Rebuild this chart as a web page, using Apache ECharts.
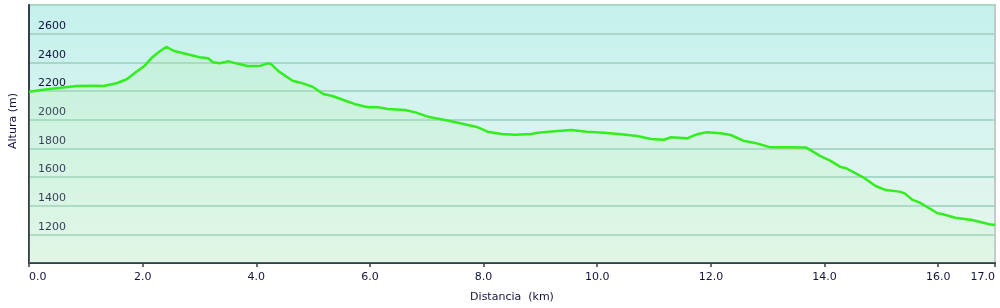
<!DOCTYPE html>
<html>
<head>
<meta charset="utf-8">
<script src="https://cdn.jsdelivr.net/npm/echarts@6/dist/echarts.min.js"></script>
<style>
html,body{margin:0;padding:0;background:#fff;}
#c{width:1000px;height:308px;}
</style>
</head>
<body>
<div id="c"></div>
<script>
const distanceKm = [0.00,0.32,0.84,1.14,1.31,1.54,1.72,1.89,2.03,2.15,2.29,2.42,2.54,2.77,3.00,3.15,3.24,3.35,3.52,3.64,3.85,4.08,4.20,4.26,4.40,4.64,4.78,4.99,5.18,5.34,5.57,5.74,5.97,6.15,6.32,6.62,6.80,7.02,7.32,7.55,7.90,8.07,8.32,8.55,8.84,8.95,9.25,9.54,9.82,10.12,10.42,10.70,10.95,11.17,11.30,11.58,11.75,11.93,12.17,12.35,12.57,12.80,13.05,13.40,13.68,13.92,14.10,14.27,14.38,14.68,14.90,15.08,15.32,15.41,15.55,15.67,15.99,16.07,16.30,16.60,16.90,17.00];
const altitudeM = [2195,2212,2235,2237,2235,2254,2282,2335,2374,2428,2474,2509,2481,2458,2435,2428,2400,2393,2407,2393,2374,2377,2393,2388,2335,2272,2258,2230,2179,2165,2132,2108,2086,2086,2074,2067,2051,2021,1998,1979,1947,1916,1900,1895,1900,1909,1919,1928,1916,1909,1898,1886,1865,1860,1877,1870,1898,1912,1905,1893,1853,1835,1807,1807,1805,1747,1714,1672,1661,1598,1537,1509,1498,1486,1440,1423,1347,1342,1316,1300,1270,1265];
const xTickValues = [0,2,4,6,8,10,12,14,16,17];
const yTickValues = [1200,1400,1600,1800,2000,2200,2400,2600];

const font = 'DejaVu Sans, Verdana, sans-serif';
const textColor = '#12123e';
const chart = echarts.init(document.getElementById('c'), null, {renderer:'canvas'});
chart.setOption({
  animation:false,
  grid:{left:22,right:5,top:5,bottom:45,show:true,
    backgroundColor:new echarts.graphic.LinearGradient(0,0,0,1,[
      {offset:0,color:'#c4f1ec'},{offset:0.5,color:'#d8f4ef'},{offset:1,color:'#e6f7ec'}]),
    borderColor:'#c8c8c8',borderWidth:2},
  xAxis:{type:'value',min:0,max:17,interval:2,
    name:'Distancia  (km)',nameLocation:'middle',nameGap:29,
    nameTextStyle:{color:textColor,fontFamily:font,fontSize:11},
    axisLine:{show:true,lineStyle:{color:'#33404a',width:2}},
    axisTick:{show:true,length:4,customValues:xTickValues,lineStyle:{color:'#33404a',width:1.5}},
    axisLabel:{customValues:xTickValues,formatter:v=>v.toFixed(1),color:textColor,fontFamily:font,fontSize:11,margin:9,
      alignMinLabel:'left',alignMaxLabel:'right'},
    splitLine:{show:false}},
  yAxis:{type:'value',min:1000,max:2800,interval:200,
    name:'Altura (m)',nameLocation:'middle',nameGap:10,nameRotate:90,
    nameTextStyle:{color:textColor,fontFamily:font,fontSize:11,padding:[0,0,0,26]},
    axisLine:{show:true,lineStyle:{color:'#33404a',width:2}},
    axisTick:{show:false},
    axisLabel:{inside:true,customValues:yTickValues,formatter:v=>String(v),color:textColor,fontFamily:font,fontSize:11,margin:9,verticalAlign:'bottom',padding:[0,0,2,0]},
    splitLine:{show:true,lineStyle:{color:'#a8d6c9',width:2}}},
  series:[{type:'line',data:distanceKm.map((d,i)=>[d,altitudeM[i]]),showSymbol:false,smooth:false,
    lineStyle:{color:'#33ee1e',width:2.5},
    areaStyle:{origin:'start',color:new echarts.graphic.LinearGradient(0,0,0,1,[
      {offset:0,color:'rgba(170,238,160,0.35)'},{offset:1,color:'rgba(200,242,200,0.25)'}])}}]
});
</script>
</body>
</html>
